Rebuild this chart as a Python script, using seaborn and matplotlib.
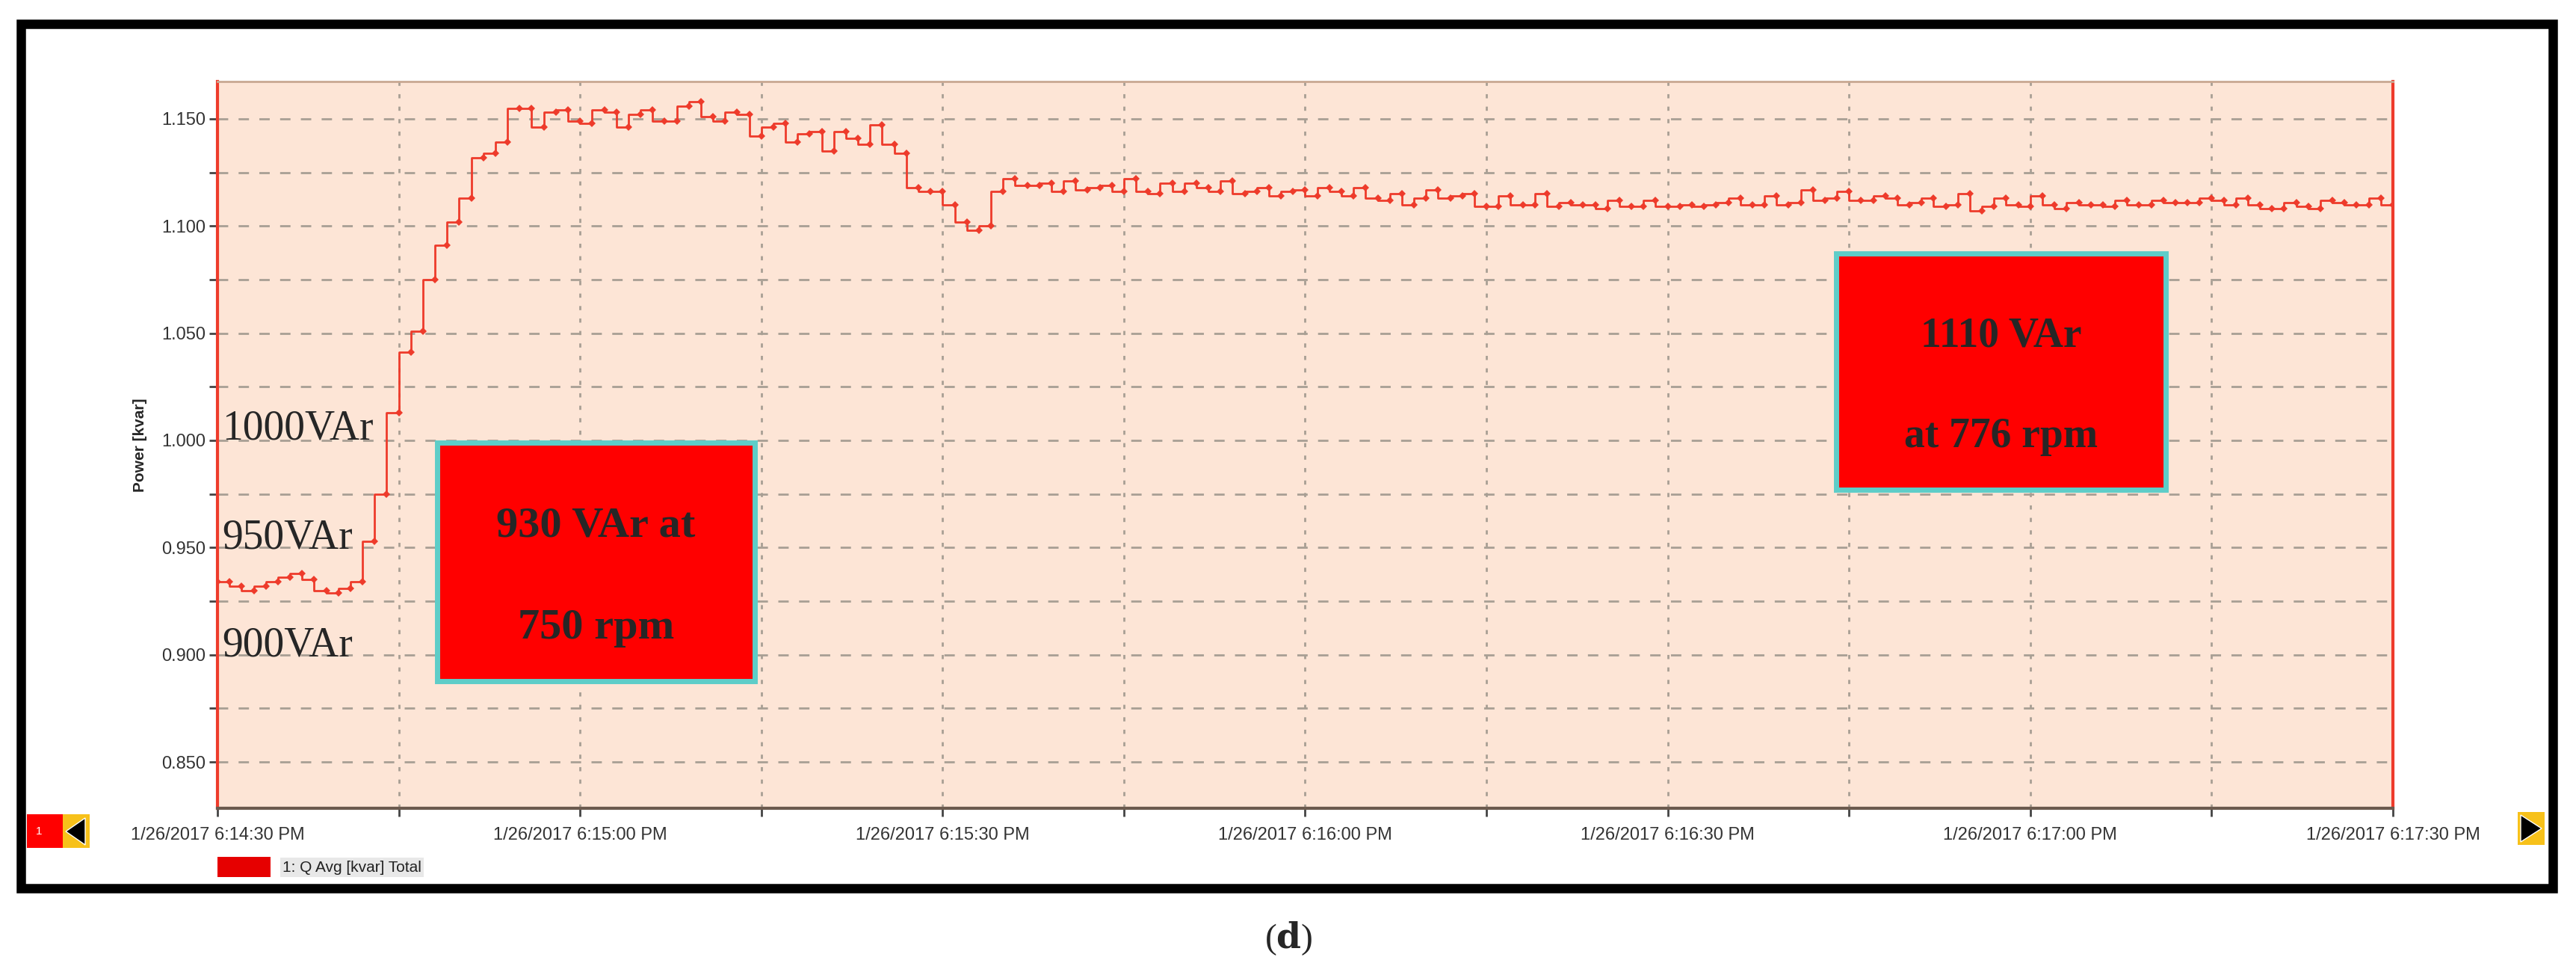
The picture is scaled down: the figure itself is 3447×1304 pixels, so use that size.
import numpy as np
import pandas as pd
import matplotlib
matplotlib.use('Agg')
import matplotlib.pyplot as plt
from matplotlib.patches import Rectangle, Polygon
import seaborn as sns

# Q Avg [kvar] Total, one sample per second from 6:14:30 PM
seconds = list(range(0, 181))
q_kvar = [
    0.934, 0.934, 0.932, 0.930, 0.932, 0.934, 0.936, 0.938, 0.935, 0.930,
    0.929, 0.931, 0.934, 0.953, 0.975, 1.013, 1.041, 1.051, 1.075, 1.091,
    1.102, 1.113, 1.132, 1.134, 1.139, 1.155, 1.155, 1.146, 1.153, 1.154,
    1.149, 1.148, 1.154, 1.153, 1.146, 1.152, 1.154, 1.149, 1.149, 1.156,
    1.158, 1.151, 1.149, 1.153, 1.152, 1.142, 1.146, 1.148, 1.139, 1.143,
    1.144, 1.135, 1.144, 1.141, 1.138, 1.147, 1.138, 1.134, 1.118, 1.116,
    1.116, 1.110, 1.102, 1.098, 1.100, 1.116, 1.122, 1.119, 1.119, 1.120,
    1.116, 1.121, 1.117, 1.118, 1.119, 1.116, 1.122, 1.116, 1.115, 1.120,
    1.116, 1.120, 1.118, 1.116, 1.121, 1.115, 1.116, 1.118, 1.114, 1.116,
    1.117, 1.114, 1.118, 1.116, 1.114, 1.118, 1.113, 1.112, 1.115, 1.110,
    1.113, 1.117, 1.113, 1.114, 1.115, 1.109, 1.109, 1.114, 1.110, 1.110,
    1.115, 1.109, 1.111, 1.110, 1.110, 1.108, 1.112, 1.109, 1.109, 1.112,
    1.109, 1.109, 1.110, 1.109, 1.110, 1.111, 1.113, 1.110, 1.110, 1.114,
    1.110, 1.111, 1.117, 1.112, 1.113, 1.116, 1.112, 1.112, 1.114, 1.113,
    1.110, 1.111, 1.113, 1.109, 1.110, 1.115, 1.107, 1.109, 1.113, 1.110,
    1.109, 1.114, 1.110, 1.108, 1.111, 1.110, 1.110, 1.109, 1.112, 1.110,
    1.110, 1.112, 1.111, 1.111, 1.111, 1.113, 1.112, 1.110, 1.113, 1.110,
    1.108, 1.108, 1.111, 1.109, 1.108, 1.112, 1.111, 1.110, 1.110, 1.113,
    1.110,
]
x_tick_pos = [0, 30, 60, 90, 120, 150, 180]
x_tick_labels = ['1/26/2017 6:14:30 PM', '1/26/2017 6:15:00 PM', '1/26/2017 6:15:30 PM',
                 '1/26/2017 6:16:00 PM', '1/26/2017 6:16:30 PM', '1/26/2017 6:17:00 PM',
                 '1/26/2017 6:17:30 PM']
y_ticks = [0.850, 0.900, 0.950, 1.000, 1.050, 1.100, 1.150]
level_labels = ['1000VAr', '950VAr', '900VAr']

df = pd.DataFrame({'t': seconds, 'q': q_kvar})

sns.set_style('white')
plt.rcParams['font.family'] = ['Liberation Sans', 'DejaVu Sans']
plt.rcParams['mathtext.fontset'] = 'dejavuserif'

W, H = 3448, 1304
fig = plt.figure(figsize=(W / 100, H / 100), dpi=100)
ax = fig.add_axes([291 / W, 1 - 1081 / H, (3202 - 291) / W, (1081 - 109) / H])
ax.set_facecolor('#fde5d6')

line_red = '#ee3b2b'
sns.lineplot(data=df, x='t', y='q', ax=ax, color=line_red, linewidth=2.0,
             drawstyle='steps-pre', marker='D', markersize=5, markeredgewidth=0)

ax.set_xlim(0, 180)
ax.set_ylim(0.8284, 1.1674)
ax.set_xticks(x_tick_pos)
ax.set_xticklabels(x_tick_labels)
ax.set_xticks(np.arange(15, 180, 30), minor=True)
ax.set_yticks(y_ticks)
ax.set_yticklabels([f'{v:.3f}' for v in y_ticks])
ax.set_yticks(np.arange(0.875, 1.16, 0.05), minor=True)
ax.tick_params(axis='both', which='both', length=8, width=2, color='#444444',
               labelsize=17, labelcolor='#333333', left=True, bottom=True)
ax.tick_params(axis='x', pad=10)
ax.xaxis.grid(True, which='both', linestyle=(0, (2, 4)), color='#a89f94', linewidth=2)
ax.yaxis.grid(True, which='both', linestyle=(0, (5, 5)), color='#a89f94', linewidth=2)
ax.set_axisbelow(True)
ax.set_xlabel('')
ax.set_ylabel('Power [kvar]', fontsize=15, fontweight='bold', labelpad=14)
for side in ['left', 'right']:
    ax.spines[side].set_color(line_red)
    ax.spines[side].set_linewidth(3)
ax.spines['top'].set_color('#c9a892')
ax.spines['top'].set_linewidth(2)
ax.spines['bottom'].set_color('#6b5a4e')
ax.spines['bottom'].set_linewidth(3)

# level notes
serif = ['Liberation Serif', 'DejaVu Serif']
for label, yb in zip(level_labels, [587, 734, 878]):
    fig.text(297 / W, 1 - yb / H, label, family=serif, fontsize=40, ha='left', va='baseline')

# annotation boxes
def note_box(x0, y0, x1, y1, lines, ys, size):
    fig.patches.append(Rectangle((x0 / W, 1 - y1 / H), (x1 - x0) / W, (y1 - y0) / H,
                                 transform=fig.transFigure, facecolor='#ff0000',
                                 edgecolor='#5ecdc8', linewidth=5, zorder=5))
    for txt, yb in zip(lines, ys):
        fig.text((x0 + x1) / 2 / W, 1 - yb / H, txt, family=serif, fontsize=size,
                 fontweight='bold', ha='center', va='baseline', zorder=6)

note_box(585, 592, 1010, 911, ['930 VAr at', '750 rpm'], [717, 854], 42)
note_box(2457, 339, 2898, 655, ['1110 VAr', 'at 776 rpm'], [464, 598], 40)

# scroll controls
fig.patches.append(Rectangle((36 / W, 1 - 1134 / H), 48 / W, 45 / H, transform=fig.transFigure,
                             facecolor='#ff0000', edgecolor='none'))
fig.text(48 / W, 1 - 1112 / H, '1', color='white', fontsize=11, va='center')
fig.patches.append(Rectangle((84 / W, 1 - 1134 / H), 36 / W, 45 / H, transform=fig.transFigure,
                             facecolor='#f7c11a', edgecolor='none'))
fig.patches.append(Polygon([(114 / W, 1 - 1094 / H), (114 / W, 1 - 1130 / H), (88 / W, 1 - 1112 / H)],
                           closed=True, transform=fig.transFigure, facecolor='black'))
fig.patches.append(Rectangle((3369 / W, 1 - 1130 / H), 36 / W, 44 / H, transform=fig.transFigure,
                             facecolor='#f7c11a', edgecolor='none'))
fig.patches.append(Polygon([(3373 / W, 1 - 1090 / H), (3373 / W, 1 - 1126 / H), (3401 / W, 1 - 1108 / H)],
                           closed=True, transform=fig.transFigure, facecolor='black'))

# legend
fig.patches.append(Rectangle((291 / W, 1 - 1173 / H), 71 / W, 27 / H, transform=fig.transFigure,
                             facecolor='#e60000', edgecolor='none'))
fig.text(378 / W, 1 - 1160 / H, '1: Q Avg [kvar] Total', fontsize=15, color='#222222', va='center',
         bbox=dict(boxstyle='square,pad=0.15', facecolor='#e8e8e8', edgecolor='none'))

# outer frame
fig.patches.append(Rectangle((28 / W, 1 - 1188 / H), (3416 - 28) / W, (1188 - 32) / H,
                             transform=fig.transFigure, facecolor='none', edgecolor='black',
                             linewidth=9))

fig.text(1724 / W, 1 - 1255 / H, r'($\mathbf{d}$)', family=serif, fontsize=34,
         ha='center', va='center')

fig.savefig('out.png', dpi=100, facecolor='white')
